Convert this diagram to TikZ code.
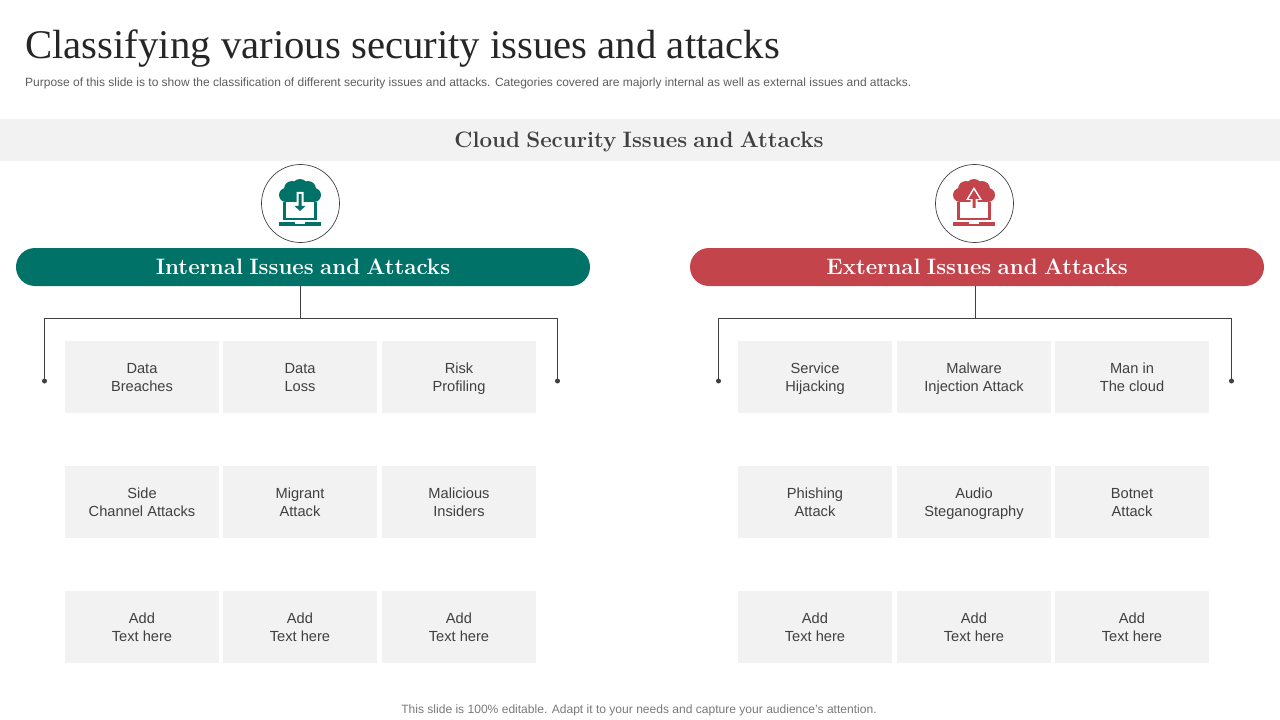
\documentclass[tikz,border=0pt]{standalone}
\usepackage{fontspec}
\setsansfont{Liberation Sans}
\setmainfont{Liberation Serif}
\newfontfamily\headfont[WordSpace=0.75]{Latin Modern Roman}
\usetikzlibrary{positioning}
\definecolor{InternalGreen}{RGB}{0,114,104}
\definecolor{ExternalRed}{RGB}{196,68,76}
\definecolor{BandGray}{RGB}{242,242,242}
\definecolor{InkGray}{RGB}{64,64,64}
\definecolor{TitleInk}{RGB}{38,38,38}
\newcommand{\topstrut}{\rule{0pt}{16.6bp}}

\begin{document}
\begin{tikzpicture}[x=1bp, y=-1bp, font=\sffamily,
	issue/.style={fill=BandGray, minimum width=154bp, minimum height=72bp, inner sep=0pt, text=InkGray, align=center, font=\fontsize{14.7}{18}\sffamily},
	heading/.style={inner sep=0pt, text height=18bp, text depth=3bp, font=\fontsize{22.4}{26}\headfont\bfseries},
	pill/.style={heading, rounded corners=19bp, minimum width=574bp, minimum height=38bp, text=white},
	ring/.style={circle, draw=InkGray, fill=white, line width=0.7bp, minimum size=78bp, inner sep=0pt},
	wire/.style={draw=InkGray, line width=0.9bp},
	tip/.style={circle, fill=InkGray, inner sep=0pt, minimum size=5bp},
	pics/cloudtop/.style={code={
		\foreach \cx/\cy/\r in {-14/-8/7, -8/-14/8, 0/-16/8, 8/-14/8, 14/-8/7}{
			\fill[#1] (\cx,\cy) circle[radius=\r];
		}
		\fill[#1] (-14,-10) rectangle (14,-1);
		\fill[#1] (-17,-1) rectangle (17,17);
		\fill[white] (-14,-1) rectangle (14,14.7);
		\fill[#1] (-21,19) rectangle (21,23);
		\fill[white] (-5,19) rectangle (5,20.5);
	}}]
	\useasboundingbox (0,0) rectangle (1280,720);

	\node[anchor=base west, inner sep=0pt, text=TitleInk, font=\fontsize{40.9}{46}\rmfamily] (title) at (25,59) {Classifying various security issues and attacks};
	\node[anchor=base west, inner sep=0pt, text=InkGray!85, font=\fontsize{12.03}{14}\sffamily] (purpose) at (25,87) {Purpose of this slide is to show the classification of different security issues and attacks. Categories covered are majorly internal as well as external issues and attacks.};

	\fill[BandGray] (0,119) rectangle (1280,161);
	\node[heading, text=InkGray] (band) at (639,140.5) {Cloud Security Issues and Attacks};

	% the two heads
	\node[ring] (ringint) at (300.5,203.5) {};
	\node[ring] (ringext) at (974.5,203.5) {};
	\pic at (300,203) {cloudtop=InternalGreen};
	\pic at (974,203) {cloudtop=ExternalRed};
	\fill[white] (296.5,192) -- (303.5,192) -- (303.5,205) -- (308,205) -- (300,213) -- (292,205) -- (296.5,205) -- cycle;
	\fill[InternalGreen] (298.5,194) -- (301.5,194) -- (301.5,206) -- (305.5,206) -- (300,211) -- (294.5,206) -- (298.5,206) -- cycle;
	\fill[white] (970.5,202) -- (977.5,202) -- (977.5,200) -- (982,200) -- (974,187) -- (966,200) -- (970.5,200) -- cycle;
	\fill[ExternalRed] (972.5,208) -- (975.5,208) -- (975.5,199) -- (979.5,199) -- (974,190) -- (968.5,199) -- (972.5,199) -- cycle;

	\node[pill, fill=InternalGreen] (pillint) at (303,267) {Internal Issues and Attacks};
	\node[pill, fill=ExternalRed] (pillext) at (977,267) {External Issues and Attacks};

	% connectors
	\coordinate (jint) at (300.5,318.5);
	\coordinate (jext) at (975.5,318.5);
	\foreach \n/\x/\c in {ia/44.5/jint, ib/557.5/jint, ea/718.5/jext, eb/1231.5/jext}{
		\node[tip] (\n) at (\x,381) {};
		\draw[wire] (\c) -| (\n.center);
	}
	\draw[wire] (pillint.south -| jint) -- (jint);
	\draw[wire] (pillext.south -| jext) -- (jext);

	\foreach \x/\y/\t [count=\i] in {
		142/377/{Data\\Breaches},
		300/377/{Data\\Loss},
		459/377/{Risk\\Profiling},
		142/502/{Side\\Channel Attacks},
		300/502/{Migrant\\Attack},
		459/502/{Malicious\\Insiders},
		142/627/{Add\\Text here},
		300/627/{Add\\Text here},
		459/627/{Add\\Text here}}{
		\node[issue] (int\i) at (\x,\y) {\topstrut\t\strut};
	}
	\foreach \x/\y/\t [count=\i] in {
		815/377/{Service\\Hijacking},
		974/377/{Malware\\Injection Attack},
		1132/377/{Man in\\The cloud},
		815/502/{Phishing\\Attack},
		974/502/{Audio\\Steganography},
		1132/502/{Botnet\\Attack},
		815/627/{Add\\Text here},
		974/627/{Add\\Text here},
		1132/627/{Add\\Text here}}{
		\node[issue] (ext\i) at (\x,\y) {\topstrut\t\strut};
	}

	\node[anchor=base, text=InkGray!70, inner sep=0pt, font=\fontsize{12.1}{14}\sffamily] (foot) at (639,713) {This slide is 100\% editable. Adapt it to your needs and capture your audience's attention.};
\end{tikzpicture}
\end{document}
